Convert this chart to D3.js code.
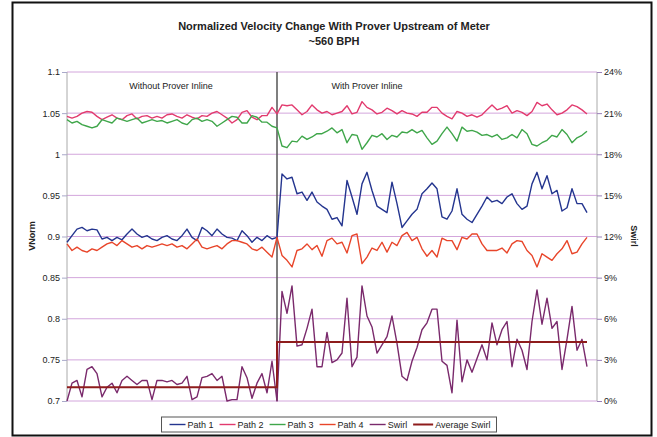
<!DOCTYPE html>
<html>
<head>
<meta charset="utf-8">
<script src="https://cdn.jsdelivr.net/npm/d3@7"></script>
<style>
  body { margin: 0; background: #fff; }
  svg { display: block; font-family: "Liberation Sans", Arial, sans-serif; }
</style>
</head>
<body>
<div id="chart"></div>
<script>
// series values, one sample per reading
var path1 = [0.893,0.901,0.909,0.911,0.907,0.909,0.908,0.897,0.899,0.895,0.899,0.896,0.903,0.909,0.903,0.899,0.901,0.897,0.895,0.899,0.901,0.897,0.895,0.901,0.909,0.899,0.895,0.911,0.907,0.901,0.909,0.903,0.899,0.898,0.895,
  0.907,0.901,0.893,0.899,0.895,0.901,0.897,0.899,
  0.976,0.970,0.972,0.952,0.954,0.944,0.954,0.942,0.937,0.933,0.921,0.923,0.913,0.968,0.948,0.927,0.964,0.978,0.956,0.937,
  0.933,0.929,0.966,0.940,0.911,0.919,0.927,0.933,
  0.952,0.958,0.965,0.958,0.924,0.921,0.931,0.958,0.927,0.921,0.917,0.927,0.937,0.948,0.942,0.944,0.940,0.948,0.952,0.940,0.933,0.937,0.964,0.978,0.958,0.974,0.952,0.956,0.931,0.935,0.958,0.940,0.940,0.929];

var path2 = [1.046,1.044,1.046,1.050,1.052,1.051,1.046,1.042,1.045,1.048,1.044,1.042,1.047,1.049,1.043,1.046,1.047,1.044,1.046,1.044,1.048,1.049,1.046,1.044,1.048,1.045,1.043,1.047,1.046,1.050,1.052,1.048,1.044,1.038,1.042,
  1.051,1.053,1.045,1.042,1.047,1.047,1.057,1.049,
  1.060,1.059,1.060,1.054,1.048,1.052,1.060,1.054,1.050,1.052,1.048,1.050,1.052,1.059,1.049,1.051,1.064,1.057,1.054,1.049,
  1.051,1.056,1.053,1.049,1.053,1.050,1.049,1.046,
  1.051,1.051,1.057,1.057,1.050,1.046,1.043,1.052,1.050,1.046,1.048,1.045,1.048,1.054,1.060,1.054,1.056,1.059,1.050,1.053,1.051,1.047,1.052,1.063,1.059,1.061,1.054,1.048,1.050,1.054,1.060,1.058,1.054,1.049];

var path3 = [1.042,1.038,1.040,1.036,1.034,1.032,1.034,1.042,1.040,1.038,1.044,1.042,1.040,1.042,1.044,1.038,1.040,1.042,1.040,1.041,1.038,1.040,1.042,1.038,1.036,1.042,1.044,1.040,1.042,1.040,1.034,1.038,1.042,1.046,1.045,
  1.038,1.038,1.047,1.045,1.039,1.039,1.034,1.032,
  1.010,1.008,1.016,1.015,1.022,1.018,1.021,1.025,1.025,1.028,1.032,1.026,1.030,1.014,1.024,1.023,1.006,1.014,1.023,1.021,
  1.025,1.018,1.023,1.021,1.027,1.026,1.030,1.026,
  1.029,1.020,1.012,1.016,1.025,1.033,1.025,1.016,1.033,1.028,1.029,1.027,1.023,1.024,1.021,1.024,1.018,1.020,1.024,1.020,1.030,1.025,1.012,1.010,1.014,1.017,1.023,1.021,1.030,1.024,1.014,1.020,1.023,1.028];

var path4 = [0.891,0.883,0.887,0.883,0.881,0.885,0.883,0.887,0.891,0.893,0.889,0.895,0.891,0.887,0.889,0.885,0.889,0.887,0.889,0.891,0.889,0.891,0.887,0.889,0.885,0.891,0.897,0.887,0.885,0.887,0.889,0.885,0.891,0.895,0.895,
  0.893,0.891,0.885,0.883,0.887,0.881,0.875,0.899,
  0.877,0.871,0.863,0.883,0.885,0.891,0.884,0.889,0.876,0.895,0.898,0.891,0.893,0.880,0.901,0.903,0.867,0.875,0.886,0.883,
  0.893,0.881,0.893,0.889,0.901,0.905,0.895,0.899,
  0.885,0.876,0.883,0.875,0.898,0.895,0.895,0.884,0.899,0.897,0.903,0.903,0.891,0.883,0.883,0.883,0.886,0.880,0.891,0.895,0.894,0.883,0.877,0.863,0.879,0.875,0.871,0.879,0.885,0.895,0.879,0.881,0.891,0.899];

// swirl in percent (right axis)
var swirl = [0.0,1.3,1.5,0.3,2.3,2.5,2.0,0.3,1.0,1.3,0.6,1.5,1.8,1.5,1.2,1.5,1.5,0.1,1.5,1.5,1.4,1.5,1.2,1.3,1.8,0.1,0.3,1.7,1.8,2.0,1.5,1.8,0.0,0.1,0.1,
  2.5,1.7,0.2,1.3,2.0,0.6,2.9,0.0,
  8.0,6.4,8.4,4.0,4.1,5.3,6.7,2.5,2.5,5.0,2.8,3.0,3.5,7.5,2.5,3.2,8.4,6.2,5.4,3.5,
  4.1,4.7,6.2,4.2,1.8,1.5,2.9,3.9,
  5.2,5.7,6.7,6.7,2.9,2.6,0.6,5.9,1.4,3.0,2.1,3.1,4.1,3.0,5.7,4.1,5.2,5.8,2.5,4.5,3.7,2.3,5.8,8.1,5.6,7.5,5.3,5.8,2.3,4.5,6.9,3.7,4.5,2.5];

// prover put inline at this sample; average swirl before / after
var dividerIndex = 42;
var avgSwirlLevels = [1.0, 4.3];

var leftTicks = [0.7, 0.75, 0.8, 0.85, 0.9, 0.95, 1, 1.05, 1.1];
var leftTickLabels = ["0.7", "0.75", "0.8", "0.85", "0.9", "0.95", "1", "1.05", "1.1"];
var rightTicks = [0, 3, 6, 9, 12, 15, 18, 21, 24];
var rightTickLabels = ["0%", "3%", "6%", "9%", "12%", "15%", "18%", "21%", "24%"];

var seriesNames = ["Path 1", "Path 2", "Path 3", "Path 4", "Swirl", "Average Swirl"];
var seriesColors = ["#24358f", "#e23a6e", "#3fa64a", "#e8452a", "#7a2a6c", "#8e1c1c"];

var width = 657, height = 437;
var plot = { left: 67, right: 597, top: 72, bottom: 401 };

var svg = d3.select("#chart").append("svg")
  .attr("width", width)
  .attr("height", height);

// outer chart frame
svg.append("rect")
  .attr("x", 12.5).attr("y", 2.5)
  .attr("width", 639).attr("height", 433)
  .attr("fill", "#fff")
  .attr("stroke", "#111")
  .attr("stroke-width", 2);

/* Scales */
var xScale = d3.scaleLinear().domain([0, 106]).range([plot.left, plot.right]);
var yLeft = d3.scaleLinear().domain([0.7, 1.1]).range([plot.bottom, plot.top]);
var yRight = d3.scaleLinear().domain([0, 24]).range([plot.bottom, plot.top]);

// gridlines
svg.append("g")
  .selectAll("line")
  .data(leftTicks)
  .enter()
  .append("line")
  .attr("x1", plot.left).attr("x2", plot.right)
  .attr("y1", d => yLeft(d)).attr("y2", d => yLeft(d))
  .attr("stroke", "#d3a6dc")
  .attr("stroke-width", 1);

// axis lines
svg.append("line")
  .attr("x1", plot.left).attr("x2", plot.left)
  .attr("y1", plot.top).attr("y2", plot.bottom)
  .attr("stroke", "#aaa");
svg.append("line")
  .attr("x1", plot.right).attr("x2", plot.right)
  .attr("y1", plot.top).attr("y2", plot.bottom)
  .attr("stroke", "#aaa");

/* Axes */
var leftAxis = d3.axisLeft(yLeft)
  .tickValues(leftTicks)
  .tickFormat((d, i) => leftTickLabels[i])
  .tickSizeInner(5).tickSizeOuter(0).tickPadding(2);
var rightAxis = d3.axisRight(yRight)
  .tickValues(rightTicks)
  .tickFormat((d, i) => rightTickLabels[i])
  .tickSizeInner(5).tickSizeOuter(0).tickPadding(2);

svg.append("g")
  .attr("transform", `translate(${plot.left},0)`)
  .call(leftAxis)
  .call(g => g.select(".domain").remove())
  .call(g => g.selectAll("line").attr("stroke", "#a9a9c9"))
  .call(g => g.selectAll("text").attr("font-size", 9).attr("fill", "#222").attr("font-family", null));

svg.append("g")
  .attr("transform", `translate(${plot.right},0)`)
  .call(rightAxis)
  .call(g => g.select(".domain").remove())
  .call(g => g.selectAll("line").attr("stroke", "#9a7fb8"))
  .call(g => g.selectAll("text").attr("font-size", 9).attr("fill", "#222").attr("font-family", null));

// axis titles
svg.append("text")
  .attr("transform", "translate(35,236) rotate(-90)")
  .attr("text-anchor", "middle")
  .attr("font-size", 9).attr("font-weight", "bold").attr("fill", "#222")
  .text("VNorm");
svg.append("text")
  .attr("transform", "translate(631,236) rotate(90)")
  .attr("text-anchor", "middle")
  .attr("font-size", 9).attr("font-weight", "bold").attr("fill", "#222")
  .text("Swirl");

// title
svg.append("text")
  .attr("x", 334).attr("y", 30)
  .attr("text-anchor", "middle")
  .attr("font-size", 11).attr("font-weight", "bold").attr("fill", "#222")
  .text("Normalized Velocity Change With Prover Upstream of Meter");
svg.append("text")
  .attr("x", 334).attr("y", 45)
  .attr("text-anchor", "middle")
  .attr("font-size", 11).attr("font-weight", "bold").attr("fill", "#222")
  .text("~560 BPH");

// divider where the prover goes inline
svg.append("line")
  .attr("x1", xScale(dividerIndex)).attr("x2", xScale(dividerIndex))
  .attr("y1", plot.top).attr("y2", plot.bottom)
  .attr("stroke", "#555")
  .attr("stroke-width", 1.5);

svg.append("text")
  .attr("x", (plot.left + xScale(dividerIndex)) / 2 - 1).attr("y", 89)
  .attr("text-anchor", "middle")
  .attr("font-size", 9).attr("fill", "#222")
  .text("Without Prover Inline");
svg.append("text")
  .attr("x", xScale(dividerIndex) + 90).attr("y", 89)
  .attr("text-anchor", "middle")
  .attr("font-size", 9).attr("fill", "#222")
  .text("With Prover Inline");

/* Lines */
var lineLeft = d3.line()
  .x((d, i) => xScale(i))
  .y(d => yLeft(d));
var lineRight = d3.line()
  .x((d, i) => xScale(i))
  .y(d => yRight(Math.max(0, d)));

var lines = svg.append("g").attr("class", "lines");

[path1, path2, path3, path4].forEach(function(values, k) {
  lines.append("path")
    .attr("d", lineLeft(values))
    .attr("fill", "none")
    .attr("stroke", seriesColors[k])
    .attr("stroke-width", 1.4)
    .attr("stroke-linejoin", "round");
});

lines.append("path")
  .attr("d", lineRight(swirl))
  .attr("fill", "none")
  .attr("stroke", seriesColors[4])
  .attr("stroke-width", 1.4)
  .attr("stroke-linejoin", "round");

// average swirl: one level before the divider, one after
var avgSwirl = swirl.map((d, i) => i < dividerIndex ? avgSwirlLevels[0] : avgSwirlLevels[1]);
var avgLine = d3.line()
  .x((d, i) => xScale(i))
  .y(d => yRight(d))
  .curve(d3.curveStepAfter);
lines.append("path")
  .attr("d", avgLine(avgSwirl))
  .attr("fill", "none")
  .attr("stroke", seriesColors[5])
  .attr("stroke-width", 2);

/* Legend */
var legend = svg.append("g").attr("class", "legend");
var legendBox = legend.append("rect")
  .attr("y", 417).attr("height", 15)
  .attr("fill", "#fff")
  .attr("stroke", "#555")
  .attr("stroke-width", 1);

var cursor = 0;
var items = legend.append("g");
seriesNames.forEach(function(name, k) {
  var sw = k === 5 ? 20 : 16;
  items.append("line")
    .attr("x1", cursor).attr("x2", cursor + sw)
    .attr("y1", 424.5).attr("y2", 424.5)
    .attr("stroke", seriesColors[k])
    .attr("stroke-width", k === 5 ? 2 : 1.4);
  var t = items.append("text")
    .attr("x", cursor + sw + 2).attr("y", 428)
    .attr("font-size", 9).attr("fill", "#222")
    .text(name);
  cursor += sw + 2 + t.node().getComputedTextLength() + 6;
});
var legendWidth = cursor - 6;
var legendLeft = 330 - legendWidth / 2;
items.attr("transform", `translate(${legendLeft},0)`);
legendBox.attr("x", legendLeft - 8).attr("width", legendWidth + 14);
</script>
</body>
</html>
